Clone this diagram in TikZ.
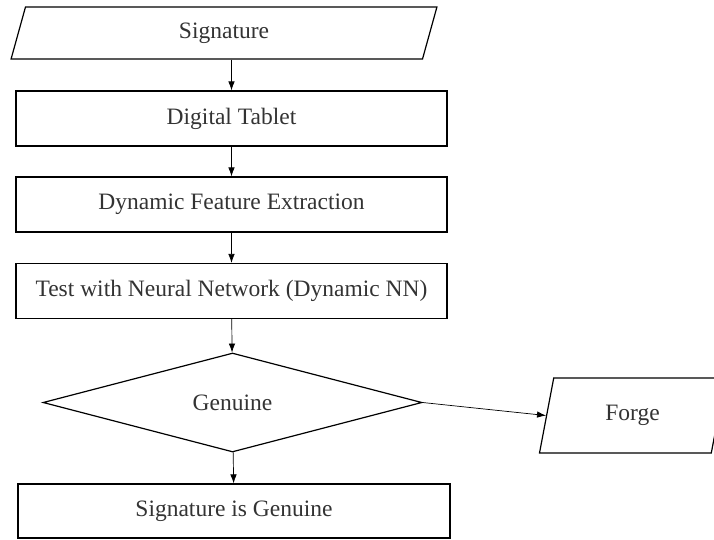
\documentclass[tikz,border=0pt]{standalone}
\usepackage{fontspec}
\setmainfont{Liberation Serif}
\usetikzlibrary{shapes.geometric,arrows.meta}
\begin{document}
\begin{tikzpicture}[x=1pt,y=-1pt,
    every node/.style={font=\fontsize{23.5}{28}\selectfont, text=black!80},
    box/.style={draw, line width=1.2pt, minimum width=431pt, minimum height=55pt, inner sep=0pt},
    io/.style={draw, line width=1.2pt, trapezium, trapezium stretches=true, inner sep=0pt},
    decision/.style={draw, line width=1.2pt, diamond, minimum width=379pt, minimum height=99pt, inner sep=0pt},
    arrow/.style={-{Latex[length=9pt,width=6.5pt]}, line width=0.7pt}]
    % Textos
    \def\txtSig{Signature}
    \def\txtTab{Digital Tablet}
    \def\txtFeat{Dynamic Feature Extraction}
    \def\txtTest{Test with Neural Network (Dynamic NN)}
    \def\txtGen{Genuine}
    \def\txtForge{Forge}
    \def\txtRes{Signature is Genuine}

    \useasboundingbox (0,0) rectangle (714,539);

    % Blocos do fluxo
    \node[io, trapezium left angle=81, trapezium right angle=99,
          minimum width=428pt, minimum height=52pt] (sig) at (224,33) {\txtSig};
    \node[box] (tablet) at (231.5,118.5) {\txtTab};
    \node[box] (feat) at (231.5,204.5) {\txtFeat};
    \node[box] (test) at (231.5,291) {\txtTest};
    \node[decision] (genuine) at (232.5,402.5) {\txtGen};
    \node[io, trapezium left angle=76.5, trapezium right angle=103.5,
          minimum width=187pt, minimum height=75pt] (forge) at (632.5,415.5) {\txtForge};
    \node[box, minimum width=432pt, minimum height=54pt] (result) at (234,511) {\txtRes};

    % Setas
    \draw[arrow] (sig.south -| tablet.north) -- (tablet.north);
    \draw[arrow] (tablet) -- (feat);
    \draw[arrow] (feat) -- (test);
    \draw[arrow] (test) -- (genuine);
    \draw[arrow] (genuine) -- (result);
    \draw[arrow] (genuine.east) -- (forge.west);
\end{tikzpicture}
\end{document}
